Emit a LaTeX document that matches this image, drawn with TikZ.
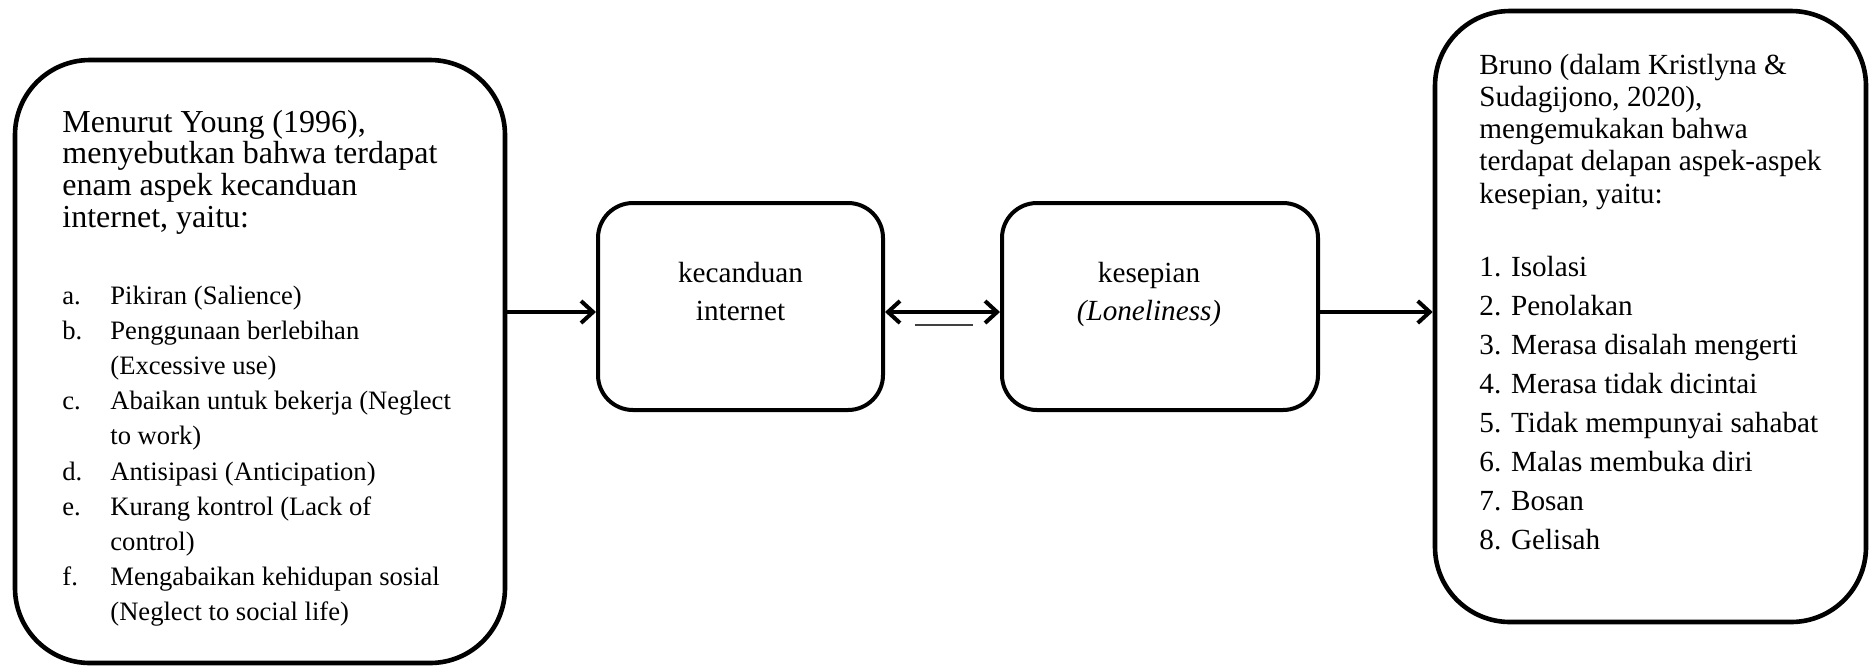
\documentclass[tikz,border=0pt]{standalone}
\usepackage{fontspec}
\setmainfont{Liberation Serif}
\usetikzlibrary{arrows.meta, positioning, calc}
\tikzset{
  bigbox/.style={rectangle, draw=black, rounded corners=37.5pt,
    line width=2.3pt, inner sep=0pt},
  midbox/.style={rectangle, draw=black, rounded corners=17.5pt,
    line width=2pt, inner sep=0pt, minimum height=103.5pt},
  arrow/.style={-{Straight Barb[length=6pt,width=11pt]}, line width=2pt},
  dblarrow/.style={{Straight Barb[length=6pt,width=11pt]}-{Straight Barb[length=6pt,width=11pt]}, line width=2pt},
  headtxt/.style={anchor=base west, inner sep=0pt, font=\fontsize{16}{18}\selectfont},
  itemtxt/.style={anchor=base west, inner sep=0pt, font=\fontsize{13.3}{15}\selectfont},
  righttxt/.style={anchor=base west, inner sep=0pt, font=\fontsize{14.6}{16}\selectfont},
  midtxt/.style={anchor=base, inner sep=0pt, font=\fontsize{14.6}{16}\selectfont}
}

\begin{document}
\begin{tikzpicture}[x=0.5pt, y=-0.5pt]
  \useasboundingbox (0,0) rectangle (1874,666);

  % boxes
  \node[bigbox, minimum width=245pt, minimum height=301.5pt] (young) at (260,361.5) {};
  \node[bigbox, minimum width=215.5pt, minimum height=305.5pt] (bruno) at (1650.5,316.5) {};
  \node[midbox, minimum width=142.5pt] (kcd) at (740.5,306.5) {};
  \node[midbox, minimum width=158pt] (ksp) at (1160,306.5) {};

  % left box text
  \foreach \t [count=\i from 0] in {{Menurut Young (1996),}, {menyebutkan bahwa terdapat},
      {enam aspek kecanduan}, {internet, yaitu:}}
    \node[headtxt] (yh-\i) at (62,{132+31.7*\i}) {\t};
  \foreach \l/\t [count=\i from 0] in {a./Pikiran (Salience), b./Penggunaan berlebihan,
      /(Excessive use), c./Abaikan untuk bekerja (Neglect, /to work),
      d./Antisipasi (Anticipation), e./Kurang kontrol (Lack of, /control),
      f./Mengabaikan kehidupan sosial, /(Neglect to social life)}
  {
    \node[itemtxt] (yl-\i) at (62,{304+35.2*\i}) {\l};
    \node[itemtxt] (yi-\i) at (110,{304+35.2*\i}) {\t};
  }

  % right box text
  \foreach \t [count=\i from 0] in {{Bruno (dalam Kristlyna \&}, {Sudagijono, 2020),},
      {mengemukakan bahwa}, {terdapat delapan aspek-aspek}, {kesepian, yaitu:}}
    \node[righttxt] (bh-\i) at (1479,{74+32.3*\i}) {\t};
  \foreach \t [count=\i from 0] in {1. Isolasi, 2. Penolakan, 3. Merasa disalah mengerti,
      4. Merasa tidak dicintai, 5. Tidak mempunyai sahabat, 6. Malas membuka diri,
      7. Bosan, 8. Gelisah}
    \node[righttxt] (bi-\i) at (1479,{276+39*\i}) {\t};

  % middle boxes text
  \node[midtxt] (kcd1) at (740.5,282) {kecanduan};
  \node[midtxt] (kcd2) at (740.5,320) {internet};
  \node[midtxt] (ksp1) at (1149,282) {kesepian};
  \node[midtxt] (ksp2) at (1149,320) {\itshape(Loneliness)};

  % connectors
  \coordinate (ay) at (0,312);
  \draw[arrow] (young.east |- ay) -- (kcd.west |- ay);
  \draw[dblarrow] (kcd.east |- ay) -- (ksp.west |- ay);
  \draw[arrow] (ksp.east |- ay) -- (bruno.west |- ay);
  \draw[black!75, line width=1.2pt] (915,325) -- (973,325);
\end{tikzpicture}
\end{document}
